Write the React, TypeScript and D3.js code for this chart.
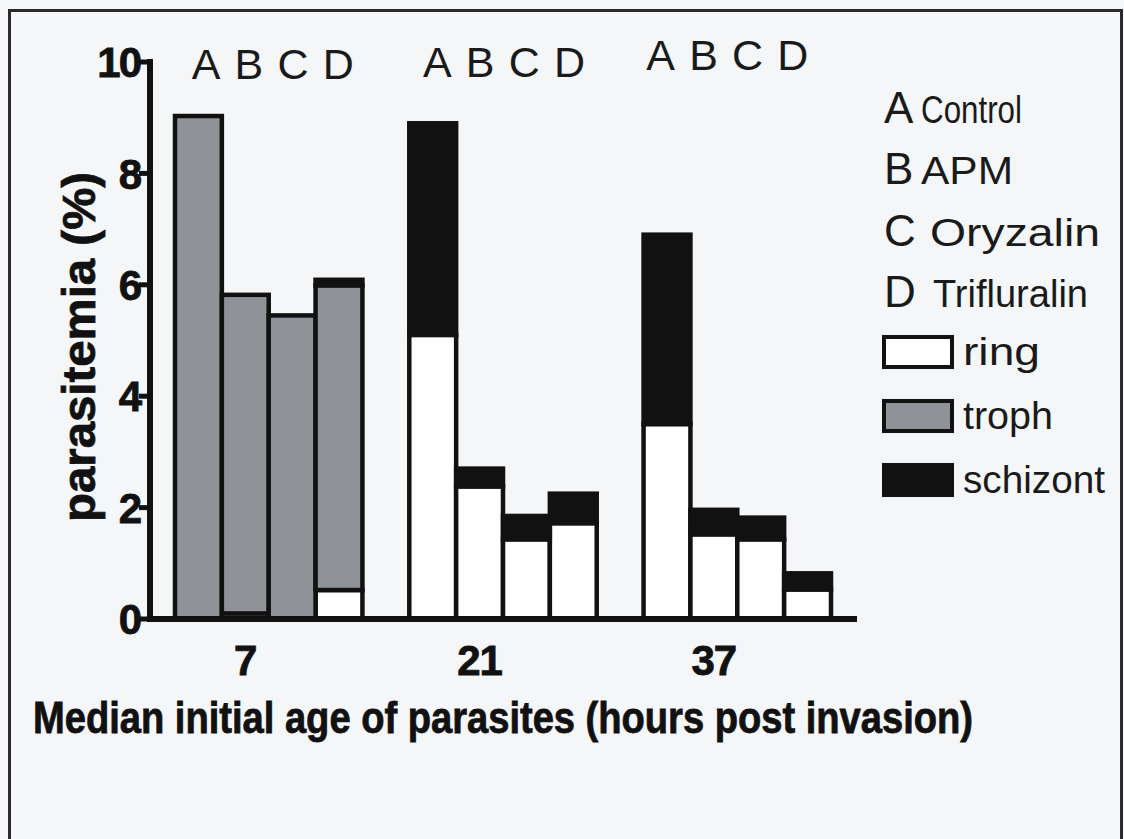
import React, { useEffect, useRef } from "react";
import * as d3 from "d3";

// Median initial age of parasites (hours post invasion)
const groups = ["7", "21", "37"];
const treatments = ["A", "B", "C", "D"];
const treatmentNames = ["Control", "APM", "Oryzalin", "Trifluralin"];
const stages = ["ring", "troph", "schizont"];

// parasitemia (%) per stage, one row per age group, columns A..D
const ringValues = [
  [0, 0.1, 0, 0.52],
  [5.1, 2.38, 1.43, 1.72],
  [3.5, 1.52, 1.43, 0.53],
];
const trophValues = [
  [9.03, 5.72, 5.45, 5.47],
  [0, 0, 0, 0],
  [0, 0, 0, 0],
];
const schizontValues = [
  [0, 0, 0, 0.1],
  [3.8, 0.32, 0.42, 0.53],
  [3.4, 0.44, 0.39, 0.29],
];
const yTicks = [0, 2, 4, 6, 8, 10];

const W = 1124;
const H = 839;
const FONT = "'Liberation Sans', Arial, Helvetica, sans-serif";
const stageFill: Record<string, string> = {
  ring: "#ffffff",
  troph: "#8f9297",
  schizont: "#111111",
};

export default function App() {
  const ref = useRef<SVGSVGElement | null>(null);

  useEffect(() => {
    const svg = d3.select(ref.current);
    svg.selectAll("*").remove();

    svg.append("rect").attr("width", W).attr("height", H).attr("fill", "#f5f6f8");
    svg
      .append("rect")
      .attr("x", 9.5)
      .attr("y", 10.5)
      .attr("width", 1112)
      .attr("height", 900)
      .attr("fill", "none")
      .attr("stroke", "#2a2a2a")
      .attr("stroke-width", 3);

    const y = d3.scaleLinear().domain([0, 10]).range([619, 62]);
    const x0 = d3.scaleBand<string>().domain(groups).range([175, 831]).paddingInner(0.2);
    const x1 = d3.scaleBand<string>().domain(treatments).range([0, x0.bandwidth()]);

    // flat rows for stacking
    const rows = groups.flatMap((g, gi) =>
      treatments.map((t, ti) => ({
        group: g,
        treatment: t,
        ring: ringValues[gi][ti],
        troph: trophValues[gi][ti],
        schizont: schizontValues[gi][ti],
      }))
    );
    const stacked = d3.stack<any>().keys(stages)(rows);

    const bars = svg.append("g");
    stacked.forEach((layer) => {
      layer.forEach((seg) => {
        const d = seg.data;
        if (seg[1] - seg[0] <= 0) return;
        bars
          .append("rect")
          .attr("x", (x0(d.group) as number) + (x1(d.treatment) as number))
          .attr("width", x1.bandwidth())
          .attr("y", y(seg[1]))
          .attr("height", y(seg[0]) - y(seg[1]))
          .attr("fill", stageFill[layer.key])
          .attr("stroke", "#111")
          .attr("stroke-width", 4.5);
      });
    });

    // y axis
    const axis = svg.append("g");
    axis
      .append("line")
      .attr("x1", 150)
      .attr("x2", 150)
      .attr("y1", y(10) - 3)
      .attr("y2", y(0) + 3)
      .attr("stroke", "#111")
      .attr("stroke-width", 6);
    yTicks.forEach((v) => {
      axis
        .append("line")
        .attr("x1", 139)
        .attr("x2", 150)
        .attr("y1", y(v))
        .attr("y2", y(v))
        .attr("stroke", "#111")
        .attr("stroke-width", 5);
      axis
        .append("text")
        .attr("x", 140)
        .attr("y", y(v))
        .attr("dy", "0.36em")
        .attr("text-anchor", "end")
        .attr("font-family", FONT)
        .attr("font-weight", "bold")
        .attr("font-size", 42)
        .attr("letter-spacing", -2)
        .attr("fill", "#111")
        .attr("stroke", "#111")
        .attr("stroke-width", 0.8)
        .text(v);
    });
    // x axis
    axis
      .append("line")
      .attr("x1", 147)
      .attr("x2", 857)
      .attr("y1", y(0))
      .attr("y2", y(0))
      .attr("stroke", "#111")
      .attr("stroke-width", 6);

    groups.forEach((g) => {
      axis
        .append("text")
        .attr("x", (x0(g) as number) + (x1("B") as number) + x1.bandwidth() / 2)
        .attr("y", 675)
        .attr("text-anchor", "middle")
        .attr("font-family", FONT)
        .attr("font-weight", "bold")
        .attr("font-size", 42)
        .attr("letter-spacing", -1)
        .attr("fill", "#111")
        .attr("stroke", "#111")
        .attr("stroke-width", 0.8)
        .text(g);
    });

    // treatment letters over each group
    const letterBaseline = [79, 77, 70];
    const letterShift = [4, 1, -10];
    groups.forEach((g, gi) => {
      const cx = (x0(g) as number) + x0.bandwidth() / 2 + letterShift[gi];
      svg
        .append("text")
        .attr("x", cx - 81)
        .attr("y", letterBaseline[gi])
        .attr("textLength", 162)
        .attr("lengthAdjust", "spacing")
        .attr("font-family", FONT)
        .attr("font-size", 43)
        .attr("fill", "#1a1a1a")
        .text(treatments.join(""));
    });

    // axis titles
    svg
      .append("text")
      .attr("transform", `translate(95,347) rotate(-90)`)
      .attr("text-anchor", "middle")
      .attr("textLength", 350)
      .attr("lengthAdjust", "spacingAndGlyphs")
      .attr("font-family", FONT)
      .attr("font-weight", "bold")
      .attr("font-size", 46)
      .attr("fill", "#111")
      .attr("stroke", "#111")
      .attr("stroke-width", 0.8)
      .text("parasitemia (%)");

    svg
      .append("text")
      .attr("x", 33)
      .attr("y", 733)
      .attr("textLength", 940)
      .attr("lengthAdjust", "spacingAndGlyphs")
      .attr("font-family", FONT)
      .attr("font-weight", "bold")
      .attr("font-size", 44)
      .attr("fill", "#111")
      .attr("stroke", "#111")
      .attr("stroke-width", 0.8)
      .text("Median initial age of parasites (hours post invasion)");

    // legend: treatments
    const treatBase = [123, 184, 246, 307];
    const treatLabelX = [921, 921, 930, 933];
    const treatLabelEnd = [1022, 1013, 1100, 1088];
    treatments.forEach((t, i) => {
      svg
        .append("text")
        .attr("x", 884)
        .attr("y", treatBase[i])
        .attr("font-family", FONT)
        .attr("font-size", 44)
        .attr("letter-spacing", -2)
        .attr("fill", "#1a1a1a")
        .text(t);
      svg
        .append("text")
        .attr("x", treatLabelX[i])
        .attr("y", treatBase[i])
        .attr("textLength", treatLabelEnd[i] - treatLabelX[i])
        .attr("lengthAdjust", "spacingAndGlyphs")
        .attr("font-family", FONT)
        .attr("font-size", 38)
        .attr("fill", "#1a1a1a")
        .text(treatmentNames[i]);
    });

    // legend: stages
    const stageTop = [335, 399, 463];
    const stageTextEnd = [1040, 1053, 1105];
    stages.forEach((s, i) => {
      svg
        .append("rect")
        .attr("x", 884)
        .attr("y", stageTop[i] + 2)
        .attr("width", 68)
        .attr("height", 30)
        .attr("fill", stageFill[s])
        .attr("stroke", "#111")
        .attr("stroke-width", 4);
      svg
        .append("text")
        .attr("x", 963)
        .attr("y", stageTop[i] + 30)
        .attr("textLength", stageTextEnd[i] - 963)
        .attr("lengthAdjust", "spacingAndGlyphs")
        .attr("font-family", FONT)
        .attr("font-size", 38)
        .attr("fill", "#1a1a1a")
        .text(s);
    });
  }, []);

  return (
    <div style={{ position: "fixed", left: 0, top: 0 }}>
      <svg ref={ref} width={W} height={H} style={{ display: "block" }} />
    </div>
  );
}
